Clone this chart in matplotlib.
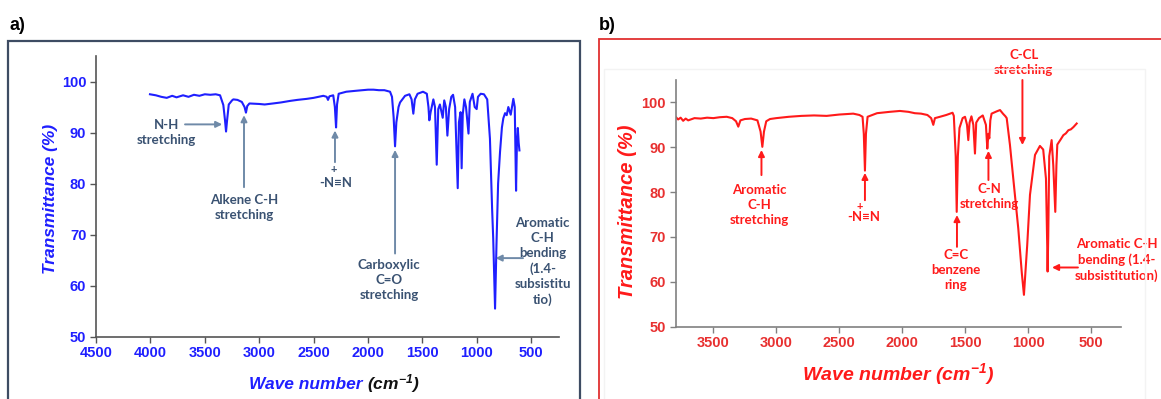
import matplotlib.pyplot as plt
from matplotlib.patches import Rectangle

plt.rcParams['mathtext.fontset'] = 'custom'
plt.rcParams['mathtext.rm'] = 'Liberation Sans:bold:italic'
plt.rcParams['mathtext.it'] = 'Liberation Sans:bold:italic'
plt.rcParams['mathtext.bf'] = 'Liberation Sans:bold:italic'

# ---- data ----
# panel a: wavenumber (cm-1) and transmittance (%)
wn_a = [4004, 3950, 3900, 3850, 3800, 3760, 3700, 3650, 3600, 3550, 3500, 3450, 3400,
        3360, 3330, 3315, 3305, 3295, 3280, 3250, 3238, 3200, 3160, 3135, 3122, 3110,
        3090, 3000, 2950, 2873, 2800, 2717, 2650, 2564, 2500, 2411, 2380, 2368, 2355,
        2320, 2305, 2294, 2285, 2270, 2200, 2104, 2000, 1950, 1900, 1850, 1798, 1780,
        1765, 1752, 1740, 1720, 1706, 1660, 1620, 1600, 1584, 1570, 1545, 1495, 1460,
        1445, 1437, 1425, 1400, 1385, 1369, 1355, 1340, 1314, 1300, 1285, 1271, 1255,
        1235, 1219, 1200, 1176, 1165, 1150, 1140, 1130, 1115, 1100, 1077, 1065, 1040,
        1020, 1002, 990, 965, 935, 905, 880, 860, 850, 833, 820, 805, 787, 770, 757,
        741, 726, 711, 689, 665, 652, 640, 632, 624, 616, 609]
t_a = [97.5, 97.3, 97.0, 96.8, 97.2, 96.9, 97.3, 97.0, 97.4, 97.2, 97.5, 97.4, 97.5,
       97.3, 95.4, 92.5, 90.2, 92.5, 95.5, 96.3, 96.5, 96.4, 96.0, 95.0, 93.9, 95.2,
       95.7, 95.6, 95.5, 95.7, 95.9, 96.2, 96.4, 96.6, 96.8, 97.2, 97.0, 96.4, 97.1,
       97.3, 95.0, 91.0, 95.5, 97.6, 98.0, 98.2, 98.4, 98.4, 98.3, 98.3, 98.0, 97.0,
       93.0, 87.3, 92.0, 95.0, 95.9, 97.2, 97.5, 96.5, 93.7, 96.5, 97.6, 98.0, 97.6,
       95.0, 92.4, 94.0, 96.5, 95.0, 83.7, 94.6, 95.5, 92.9, 96.3, 95.0, 89.4, 94.6,
       97.0, 97.4, 95.0, 79.1, 92.0, 94.0, 83.0, 93.5, 96.5, 95.0, 89.8, 96.0, 97.6,
       95.0, 94.6, 97.0, 97.6, 97.5, 96.5, 88.8, 75.0, 69.3, 55.5, 68.0, 80.0, 86.3,
       91.0, 92.8, 93.8, 93.4, 95.0, 93.5, 96.6, 95.0, 78.6, 88.0, 90.9, 88.0, 86.5]

# panel b
wn_b = [3800, 3780, 3760, 3740, 3720, 3700, 3650, 3600, 3550, 3500, 3450, 3394, 3350,
        3320, 3302, 3285, 3250, 3200, 3150, 3125, 3111, 3098, 3080, 3050, 3000, 2900,
        2800, 2700, 2600, 2500, 2389, 2340, 2315, 2305, 2296, 2288, 2275, 2200, 2100,
        2018, 1950, 1900, 1850, 1800, 1770, 1753, 1740, 1700, 1650, 1600, 1590, 1575,
        1567, 1558, 1545, 1520, 1501, 1485, 1475, 1465, 1450, 1435, 1422, 1412, 1390,
        1360, 1335, 1324, 1315, 1308, 1300, 1290, 1250, 1223, 1200, 1180, 1170, 1144,
        1118, 1078, 1050, 1033, 1007, 985, 945, 906, 880, 858, 848, 845, 840, 832,
        813, 800, 784, 775, 768, 740, 720, 700, 680, 660, 640, 614]
t_b = [96.8, 96.2, 96.6, 95.9, 96.4, 96.0, 96.5, 96.4, 96.6, 96.5, 96.7, 96.8, 96.5,
       95.8, 94.6, 96.0, 96.3, 96.4, 96.0, 93.5, 90.1, 93.5, 95.8, 96.3, 96.5, 96.8,
       97.0, 97.1, 97.0, 97.3, 97.5, 97.2, 96.8, 93.0, 84.8, 93.0, 96.8, 97.6, 97.9,
       98.1, 97.9, 97.6, 97.5, 97.2, 96.5, 95.0, 96.5, 96.8, 97.2, 97.7, 97.0, 88.0,
       75.6, 88.0, 94.3, 96.5, 96.8, 95.0, 91.6, 95.5, 96.9, 95.0, 88.6, 95.5, 96.5,
       97.1, 95.0, 89.7, 93.0, 92.0, 96.0, 97.5, 98.0, 98.3, 97.5, 96.9, 96.5, 90.5,
       83.1, 71.9, 62.0, 57.1, 68.2, 79.4, 88.3, 90.3, 89.5, 83.0, 68.0, 62.3, 70.0,
       88.0, 91.6, 86.0, 75.6, 86.0, 90.6, 91.8, 92.7, 93.1, 93.8, 94.0, 94.5, 95.3]

x_ticks_a = [4500, 4000, 3500, 3000, 2500, 2000, 1500, 1000, 500]
x_ticks_b = [3500, 3000, 2500, 2000, 1500, 1000, 500]
y_ticks = [50, 60, 70, 80, 90, 100]

W, H = 1161, 399
BLUE = '#1f1fff'
RED = '#ff1a1a'
NOTE_A = '#3a5272'
ARROW_A = '#6f8aa8'
NOTE_FONT = ['Lato', 'DejaVu Sans']


def fx(px):
    return px / W


def fy(py):
    return 1 - py / H


fig = plt.figure(figsize=(W / 100, H / 100), dpi=100)

# panel frames
fig.add_artist(Rectangle((fx(8), fy(470)), fx(580) - fx(8), fy(40.7) - fy(470),
                         transform=fig.transFigure, fill=False, ec='#3e4c63', lw=1.6))
fig.add_artist(Rectangle((fx(604), fy(470)), fx(1145) - fx(604), fy(69) - fy(470),
                         transform=fig.transFigure, fill=False, ec='#f3f3f3', lw=1))
fig.add_artist(Rectangle((fx(598.5), fy(470)), fx(1250) - fx(598.5), fy(39.3) - fy(470),
                         transform=fig.transFigure, fill=False, ec='#e03030', lw=1.3))

fig.text(fx(10), fy(25), 'a)', fontsize=13, fontweight='bold', va='center',
         family='Liberation Sans')
fig.text(fx(599), fy(25), 'b)', fontsize=13, fontweight='bold', va='center',
         family='Liberation Sans')

ax_a = fig.add_axes([fx(96), fy(336.7), fx(558.5) - fx(96), fy(56) - fy(336.7)])
ax_b = fig.add_axes([fx(675.6), fy(326.7), fx(1121) - fx(675.6), fy(80) - fy(326.7)])


def style(ax, xt, xlim, color, spine):
    ax.set_xlim(*xlim)
    ax.set_ylim(50, 105)
    ax.set_xticks(xt)
    ax.set_yticks(y_ticks)
    for s in ['top', 'right']:
        ax.spines[s].set_visible(False)
    for s in ['left', 'bottom']:
        ax.spines[s].set_color(spine)
        ax.spines[s].set_linewidth(1.2)
    ax.tick_params(direction='out', length=4, width=1, color=spine, pad=3,
                   labelsize=10.5, labelcolor=color)
    for lab in ax.get_xticklabels() + ax.get_yticklabels():
        lab.set_fontweight('bold')
        lab.set_family('Liberation Sans')
    ax.patch.set_alpha(0)


style(ax_a, x_ticks_a, (4500, 250), BLUE, '#555555')
style(ax_b, x_ticks_b, (3800, 262), '#e83030', '#808080')

ax_a.plot(wn_a, t_a, color=BLUE, lw=1.5)
ax_b.plot(wn_b, t_b, color=RED, lw=1.5)

# axis titles
lab = dict(fontweight='bold', style='italic', family='Liberation Sans')
fig.text(fx(50), fy(199), 'Transmittance (%)', rotation=90, ha='center', va='center',
         color=BLUE, fontsize=12.5, **lab)
fig.text(fx(628), fy(212), 'Transmittance (%)', rotation=90, ha='center', va='center',
         color=RED, fontsize=14.5, **lab)
t1 = fig.text(fx(249), fy(389), 'Wave number ', color=BLUE, fontsize=12.5,
              va='baseline', **lab)
fig.canvas.draw()
x_end = fig.transFigure.inverted().transform(
    (t1.get_window_extent().x1, 0))[0]
fig.text(x_end, fy(389), '(cm$^{-1}$)', color='#111111', fontsize=12.5,
         va='baseline', **lab)
fig.text(fx(898), fy(374), 'Wave number (cm$^{-1}$)', color=RED, fontsize=14,
         ha='center', va='center', **lab)


def note(ax, text, xy, color, size=9.5):
    ax.text(xy[0], xy[1], text, ha='center', va='center', color=color, fontsize=size,
            fontweight='bold', family=NOTE_FONT, linespacing=1.3, clip_on=False)


def arrow(ax, tail, head, color):
    ax.annotate('', xy=head, xytext=tail, annotation_clip=False,
                arrowprops=dict(arrowstyle='-|>', color=color, lw=1.4,
                                mutation_scale=9, shrinkA=0, shrinkB=0))


# panel a notes
note(ax_a, 'N-H\nstretching', (3850, 90.0), NOTE_A)
arrow(ax_a, (3682, 91.6), (3340, 91.6), ARROW_A)
note(ax_a, 'Alkene C-H\nstretching', (3140, 75.3), NOTE_A)
arrow(ax_a, (3140, 79.3), (3140, 93.4), ARROW_A)
note(ax_a, '+', (2318, 82.7), NOTE_A, 8)
note(ax_a, '-N≡N', (2295, 80.2), NOTE_A)
arrow(ax_a, (2304, 84.2), (2304, 90.4), ARROW_A)
note(ax_a, 'Carboxylic\nC=O\nstretching', (1808, 61.2), NOTE_A)
arrow(ax_a, (1752, 66.3), (1752, 86.6), ARROW_A)
note(ax_a, 'Aromatic\nC-H\nbending\n(1.4-\nsubsistitu\ntio)', (396, 64.7), NOTE_A)
arrow(ax_a, (576, 65.4), (828, 65.4), ARROW_A)

# panel b notes
note(ax_b, 'Aromatic\nC-H\nstretching', (3133, 77.1), RED)
arrow(ax_b, (3118, 83.8), (3118, 89.4), RED)
note(ax_b, '+', (2335, 76.7), RED, 8)
note(ax_b, '-N≡N', (2302, 74.5), RED)
arrow(ax_b, (2296, 78.2), (2296, 84.3), RED)
note(ax_b, 'C=C\nbenzene\nring', (1573, 62.6), RED)
arrow(ax_b, (1565, 67.8), (1565, 74.9), RED)
note(ax_b, 'C-N\nstretching', (1311, 79.0), RED)
arrow(ax_b, (1315, 82.7), (1315, 89.2), RED)
note(ax_b, 'C-CL\nstretching', (1035, 108.9), RED)
arrow(ax_b, (1045, 105.0), (1045, 90.5), RED)
note(ax_b, 'Aromatic C-H\nbending (1.4-\nsubsistitution)', (294, 64.9), RED)
arrow(ax_b, (604, 63.2), (810, 63.2), RED)

fig.savefig('out.png', dpi=100)
